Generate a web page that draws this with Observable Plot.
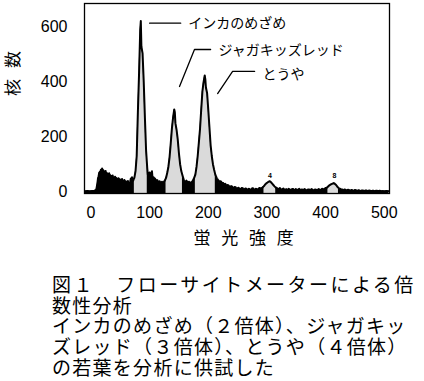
<!DOCTYPE html>
<html><head><meta charset="utf-8">
<script src="https://cdn.jsdelivr.net/npm/d3@7"></script>
<script src="https://cdn.jsdelivr.net/npm/@observablehq/plot@0.6"></script>
<style>
html,body{margin:0;padding:0;background:#fff;width:424px;height:381px;overflow:hidden}
#chart svg{display:block}
.cap{margin:24px 0 0 52px;font-family:"Noto Sans CJK JP",sans-serif;font-size:19px;line-height:20.7px;color:#000;white-space:nowrap}
.cap div{letter-spacing:1.28px}
.cap div.l1{letter-spacing:2.45px}
</style></head>
<body>
<div id="chart"></div>
<div class="cap">
<div class="l1">図１　フローサイトメーターによる倍</div>
<div>数性分析</div>
<div>インカのめざめ（２倍体）、ジャガキッ</div>
<div>ズレッド（３倍体）、とうや（４倍体）</div>
<div>の若葉を分析に供試した</div>
</div>
<script>
// [fluorescence intensity, nuclei count]
const histogram = [
[-10,1],[-6,2],[-2,1],[2,2],[6,3],[9,6],[10,18],[11,30],[12,48],[13,55],[14,68],[15,72],[16,66],[17,80],[18,74],[19,84],[20,79],[21,78],[22,70],[23,73],[24,66],[25,75],[26,64],[27,68],[28,61],[29,64],[30,58],[31,67],[32,55],[33,60],[34,52],[35,57],[36,51],[37,59],[38,49],[39,52],[40,47],[41,54],[42,45],[43,50],[44,43],[45,47],[46,41],[47,49],[48,42],[49,45],[50,38],[51,43],[52,37],[53,46],[54,36],[55,40],[56,34],[57,42],[58,33],[59,38],[60,31],[61,36],[62,30],[63,39],[64,29],[65,33],[66,28],[67,36],[68,48],[69,38],[70,52],[71,42],[72,40],[73,46],[74,50],
[76,75],[78,130],[80,290],[82,430],[84,590],[85,623],[86,530],[88,505],[90,400],[92,270],[94,150],[96,85],
[97,62],[98,60],[99,52],[100,70],[101,58],[102,55],[103,66],[104,74],[105,50],[106,46],[107,52],[108,40],[109,48],[110,44],[111,35],[112,36],[113,42],[114,38],[115,30],[116,33],[117,38],[118,35],[119,28],[120,30],[121,36],[122,34],[123,27],[124,32],[125,38],[126,40],
[128,50],[130,68],[132,90],[134,125],[136,175],[138,230],[140,270],[142,300],[143,290],[144,250],[146,225],[148,190],[150,140],[152,100],[154,75],[156,60],
[158,45],[159,34],[160,38],[161,30],[162,32],[163,40],[164,36],[165,27],[166,30],[167,36],[168,34],[169,25],[170,28],[171,34],[172,32],[173,38],[174,40],[175,46],[176,50],
[178,62],[180,90],[182,130],[184,180],[186,230],[188,300],[190,365],[192,400],[194,424],[195,410],[196,380],[198,360],[200,300],[202,235],[204,170],[206,130],[208,100],[210,80],[212,62],
[214,52],[215,44],[216,45],[217,38],[218,40],[219,30],[220,33],[221,38],[222,36],[223,26],[224,28],[225,32],[226,30],[227,22],[228,24],[229,28],[230,26],[231,18],[232,20],[233,24],[235,22],[236,15],[238,16],[239,20],[241,18],[242,12],[244,13],[245,17],[247,15],[248,9],[250,11],[251,14],[253,12],[254,8],[256,9],[257,13],[259,12],[260,7],[262,8],[263,11],[265,10],[266,6],[268,7],[269,10],[271,9],[272,6],[274,8],[275,12],[277,11],[278,6],[280,7],[281,10],[283,9],[284,7],[286,10],[287,13],[289,12],[290,10],[292,14],
[295,20],[297,26],[299,30],[301,33],[303,36],[305,38],[307,34],[309,29],[311,24],[313,19],[315,15],
[318,12],[319,8],[321,10],[322,13],[324,8],[325,6],[327,9],[328,11],[330,7],[331,5],[333,9],[334,7],[336,6],[337,10],[339,8],[340,5],[342,7],[343,9],[345,9],[346,5],[348,6],[349,9],[351,8],[352,5],[354,7],[355,10],[357,5],[358,7],[360,8],[361,5],[363,6],[364,9],[366,7],[367,4],[369,5],[370,8],[372,8],[373,5],[375,6],[376,9],[378,7],[379,4],[381,5],[382,8],[384,7],[385,5],[387,6],[388,9],[390,8],[391,6],[393,7],[394,10],[396,9],[397,8],[399,11],[400,13],[402,14],
[404,18],[406,22],[408,25],[410,27],[412,29],[414,31],[416,28],[418,24],[420,18],[422,14],
[423,10],[425,10],[426,6],[428,8],[429,5],[431,6],[432,8],[434,7],[435,4],[437,5],[438,7],[440,6],[441,3],[443,4],[444,6],[446,5],[447,3],[449,4],[450,6],[452,5],[453,3],[455,3],[456,5],[458,4],[459,2],[461,3],[462,4],[464,4],[465,2],[467,3],[468,4],[470,4],[471,2],[473,2],[474,4],[476,3],[477,2],[479,2],[480,3],[482,3],[483,1],[485,2],[486,3],[488,3],[489,1],[491,2],[492,3],[494,2],[496,1],[497,2],[500,1],[504,2],[508,1]
];
// gated peak ranges (grey)
const gateStart = [74,128,178,295,404];
const gateEnd   = [96,156,212,315,422];
// axis ticks
const xTicks = [0,100,200,300,400,500];
const yTicks = [0,200,400,600];
// cultivar annotations (data coordinates)
const cultivars = ["インカのめざめ","ジャガキッズレッド","とうや"];
const labelX = [166,217.5,292.6];
const labelY = [614,515,428];
const leaderX = [[100,153],[151,176.5,204],[216,241.5,279]];
const leaderY = [[615,615],[384,519,519],[358,439,439]];
// small peak marks
const smallMarks = ["4","8"];
const smallX = [305,415];
const smallY = [59,59];

const yMin = -7;
const hist = histogram.map(([x,y])=>({x, y}));
const gated = [];
hist.forEach(d=>{
  gateStart.forEach((a,g)=>{ if(d.x>=a && d.x<=gateEnd[g]) gated.push({...d, g}); });
});
const leaders = cultivars.flatMap((c,i)=>leaderX[i].map((x,j)=>({c, x, y: leaderY[i][j]})));
const jp = "Noto Sans CJK JP";

const plot = Plot.plot({
  width: 424, height: 250,
  marginLeft: 84, marginRight: 35, marginTop: 3, marginBottom: 57,
  style: {fontFamily: "Liberation Sans, Arial, sans-serif", fontSize: "16px", background: "white", color: "black"},
  x: {domain: [-11,509], ticks: xTicks, tickSize: 0, tickPadding: 13, label: null},
  y: {domain: [yMin,687], ticks: yTicks, tickSize: 0, tickPadding: 17, label: null},
  marks: [
    Plot.areaY(hist, {x:"x", y1: yMin, y2:"y", fill:"black"}),
    Plot.areaY(gated, {x:"x", y1: yMin, y2:"y", z:"g", fill:"#dadada"}),
    Plot.line(hist, {x:"x", y:"y", stroke:"black", strokeWidth:2}),
    Plot.line(leaders, {x:"x", y:"y", z:"c", stroke:"black", strokeWidth:1.3}),
    Plot.text(cultivars, {x: labelX, y: labelY, text: d=>d, textAnchor:"start", fontSize:14, fontFamily: jp, fill:"black"}),
    Plot.text(smallMarks, {x: smallX, y: smallY, text: d=>d, fontSize:7, fontWeight:"bold", fill:"black"}),
    Plot.text(["蛍光強度"], {frameAnchor:"bottom", lineAnchor:"middle", dx: 12, dy: 45, fontSize:17, fontFamily: jp, fill:"black"}),
    Plot.text(["核数"], {frameAnchor:"left", lineAnchor:"middle", rotate:-90, dx:-71, dy:-2.5, fontSize:17, fontFamily: jp, fill:"black"}),
    Plot.frame({stroke:"black", strokeWidth:1.3})
  ]
});
plot.querySelectorAll("text").forEach(t=>{
  if (t.textContent === "蛍光強度") t.setAttribute("letter-spacing","10.7px");
  if (t.textContent === "核数") t.setAttribute("letter-spacing","11px");
});
document.getElementById("chart").appendChild(plot);
</script>
</body></html>
